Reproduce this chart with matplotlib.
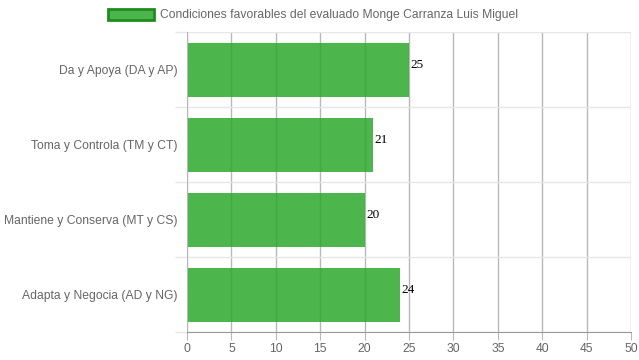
import matplotlib.pyplot as plt
from matplotlib.patches import Patch

plt.rcParams["font.family"] = ["Liberation Sans", "DejaVu Sans"]

# data
categories = ["Da y Apoya (DA y AP)", "Toma y Controla (TM y CT)",
              "Mantiene y Conserva (MT y CS)", "Adapta y Negocia (AD y NG)"]
values = [25, 21, 20, 24]
series_name = "Condiciones favorables del evaluado Monge Carranza Luis Miguel"
xticks = list(range(0, 51, 5))

bar_color = (44/255, 168/255, 44/255, 0.85)
edge_green = "#1e8c1e"
text_gray = "#666666"
fs = 8.7

fig = plt.figure(figsize=(6.39, 3.6), dpi=100)
ax = fig.add_axes([187/639, 1 - 332/360, (631 - 187)/639, 300/360])

n = len(categories)
ypos = list(range(n))
ax.barh(ypos, values, height=0.72, color=bar_color, zorder=2)
ax.set_ylim(n - 0.5, -0.5)
ax.set_xlim(0, 50)

# vertical grid
ax.set_xticks(xticks)
ax.xaxis.grid(True, color="#b8b8b8", linewidth=1, zorder=1)
ax.tick_params(axis="x", length=6, color="#b8b8b8", labelcolor=text_gray,
               labelsize=fs, pad=2)

# category labels + light horizontal grid at boundaries
ax.set_yticks(ypos)
ax.set_yticklabels(categories)
ax.tick_params(axis="y", length=0, labelcolor=text_gray, labelsize=fs, pad=7)
bounds = [i - 0.5 for i in range(n + 1)]
ax.set_yticks(bounds, minor=True)
ax.tick_params(axis="y", which="minor", length=9, color="#e6e6e6", width=1)
ax.yaxis.grid(True, which="minor", color="#e6e6e6", linewidth=1, zorder=1)

for s in ["top", "right"]:
    ax.spines[s].set_visible(False)
ax.spines["left"].set_color("#b8b8b8")
ax.spines["bottom"].set_color("#999999")

# value labels
for y, v in zip(ypos, values):
    ax.annotate(str(v), (v, y), xytext=(1, 3.5), textcoords="offset points",
                ha="left", va="center", fontsize=9.5,
                family="Liberation Serif", color="black")

handle = Patch(facecolor="#4cb54c", edgecolor=edge_green, linewidth=2)
fig.legend([handle], [series_name], loc="center", bbox_to_anchor=(0.49, 1 - 15/360),
           frameon=False, fontsize=fs, labelcolor=text_gray,
           handlelength=3.8, handleheight=1.1, handletextpad=0.5)

fig.savefig("out.png", dpi=100)
